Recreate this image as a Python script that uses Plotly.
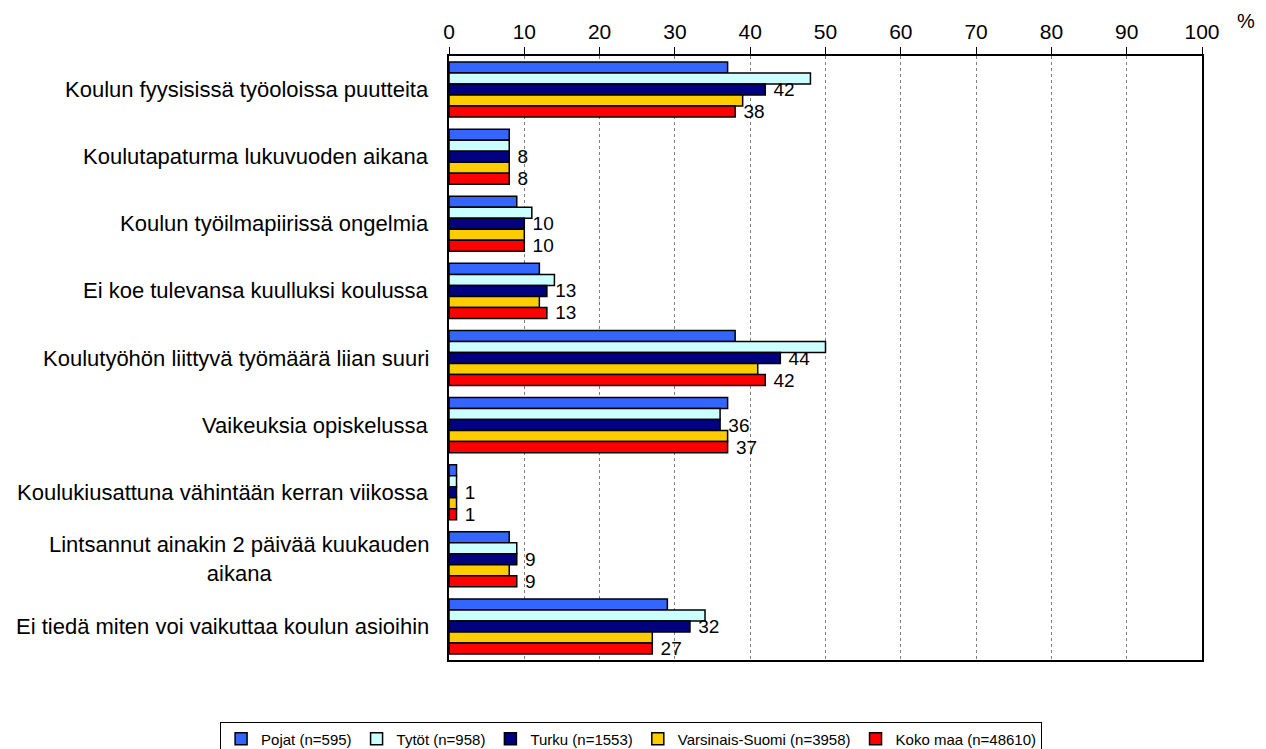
import plotly.graph_objects as go

categories = [
    "Koulun fyysisissä työoloissa puutteita",
    "Koulutapaturma lukuvuoden aikana",
    "Koulun työilmapiirissä ongelmia",
    "Ei koe tulevansa kuulluksi koulussa",
    "Koulutyöhön liittyvä työmäärä liian suuri",
    "Vaikeuksia opiskelussa",
    "Koulukiusattuna vähintään kerran viikossa",
    "Lintsannut ainakin 2 päivää kuukauden<br>aikana",
    "Ei tiedä miten voi vaikuttaa koulun asioihin",
]

pojat = [37, 8, 9, 12, 38, 37, 1, 8, 29]
tytot = [48, 8, 11, 14, 50, 36, 1, 9, 34]
turku = [42, 8, 10, 13, 44, 36, 1, 9, 32]
varsinais_suomi = [39, 8, 10, 12, 41, 37, 1, 8, 27]
koko_maa = [38, 8, 10, 13, 42, 37, 1, 9, 27]

series_names = ["Pojat (n=595)", "Tytöt (n=958)", "Turku (n=1553)",
                "Varsinais-Suomi (n=3958)", "Koko maa (n=48610)"]
series_values = [pojat, tytot, turku, varsinais_suomi, koko_maa]
series_colors = ["#3366FF", "#CCFFFF", "#000080", "#FFCC00", "#FF0000"]
show_labels = [False, False, True, False, True]

tick_values = list(range(0, 101, 10))

FONT = "Liberation Sans, Arial, sans-serif"

fig = go.Figure()
for name, vals, col, lab in zip(series_names, series_values, series_colors, show_labels):
    fig.add_trace(go.Bar(
        y=categories, x=vals, name=name, orientation="h",
        marker=dict(color=col, line=dict(color="black", width=1.5)),
        text=["\u00a0" + str(v) for v in vals] if lab else None,
        textposition="outside" if lab else "none",
        textfont=dict(size=19, color="black", family=FONT),
        constraintext="none",
        cliponaxis=False,
    ))

for c in categories:
    fig.add_annotation(
        x=0, y=c, xref="paper", yref="y", text=c, showarrow=False,
        xanchor="right", align="center", xshift=-18,
        font=dict(size=22, color="black", family=FONT),
    )

fig.add_annotation(
    x=1.059, y=1.058, xref="paper", yref="paper", text="%", showarrow=False,
    xanchor="center", yanchor="middle",
    font=dict(size=20, color="black", family=FONT),
)

fig.update_layout(
    width=1266, height=749,
    margin=dict(l=441, r=72, t=48, b=97, autoexpand=False),
    paper_bgcolor="white", plot_bgcolor="white",
    barmode="group", bargap=0.18, bargroupgap=0,
    font=dict(family=FONT, color="black"),
    showlegend=True,
    legend=dict(
        orientation="h", x=-0.304, xanchor="left", y=-0.102, yanchor="top",
        bordercolor="black", borderwidth=1, font=dict(size=15, family=FONT),
        traceorder="normal", itemwidth=30,
    ),
    xaxis=dict(
        range=[0, 100], side="top", tickvals=tick_values,
        showgrid=True, gridcolor="#808080", griddash="dot", gridwidth=1,
        showline=True, linecolor="black", linewidth=1.5, mirror=True,
        ticks="outside", ticklen=7, tickcolor="black",
        tickfont=dict(size=21, family=FONT), zeroline=False, fixedrange=True,
    ),
    yaxis=dict(
        autorange="reversed", showticklabels=False, ticks="",
        showline=True, linecolor="black", linewidth=1.5, mirror=True,
        showgrid=False, fixedrange=True,
    ),
)

fig.write_html("out.html")
